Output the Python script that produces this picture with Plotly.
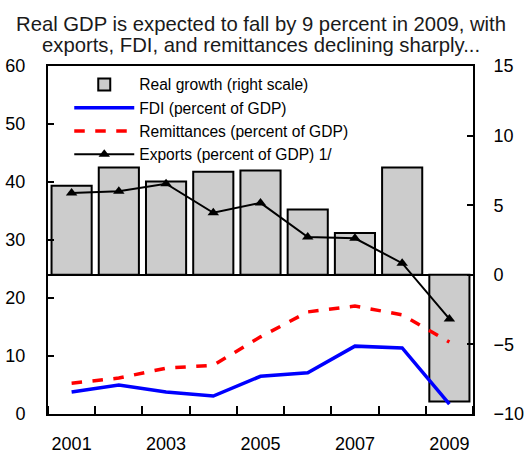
import plotly.graph_objects as go

years = [2001, 2002, 2003, 2004, 2005, 2006, 2007, 2008, 2009]
real_growth = [6.4, 7.7, 6.7, 7.4, 7.5, 4.7, 3.0, 7.7, -9.1]
fdi = [3.8, 5.0, 3.8, 3.1, 6.5, 7.1, 11.7, 11.4, 1.7]
remittances = [5.3, 6.2, 7.9, 8.4, 13.3, 17.6, 18.6, 17.1, 12.4]
exports = [38.1, 38.4, 39.7, 34.7, 36.4, 30.5, 30.3, 26.0, 16.4]
xtick_vals = [2001, 2003, 2005, 2007, 2009]
xtick_text = ["2001", "2003", "2005", "2007", "2009"]
title_line1 = "Real GDP is expected to fall by 9 percent in 2009, with"
title_line2 = "exports, FDI, and remittances declining sharply..."

font = "Liberation Sans, Arial, sans-serif"

fig = go.Figure()
# bars on the primary (right-hand) axis so that the lines on the overlaying axis are drawn above them
fig.add_trace(go.Bar(x=years, y=real_growth, name="Real growth (right scale)", yaxis="y",
                     width=0.85, marker=dict(color="#cccccc", line=dict(color="black", width=2))))
fig.add_trace(go.Scatter(x=years, y=fdi, name="FDI (percent of GDP)", mode="lines", yaxis="y2",
                         line=dict(color="#0000ff", width=3.5)))
fig.add_trace(go.Scatter(x=years, y=remittances, name="Remittances (percent of GDP)", mode="lines",
                         yaxis="y2", line=dict(color="#ff0000", width=3.5, dash="dash")))
fig.add_trace(go.Scatter(x=years, y=exports, name="Exports (percent of GDP) 1/", mode="lines+markers",
                         yaxis="y2", line=dict(color="black", width=2),
                         marker=dict(symbol="triangle-up", size=10, color="black")))

title_font = dict(family=font, size=20.3, color="#1a1a1a")
fig.update_layout(
    width=526, height=457,
    margin=dict(l=48, r=53, t=66, b=43),
    paper_bgcolor="white", plot_bgcolor="white",
    font=dict(family=font, size=18, color="black"),
    annotations=[
        dict(text=title_line1, xref="paper", yref="paper", x=0.5, y=1, xanchor="center",
             yanchor="middle", yshift=42, showarrow=False, font=title_font),
        dict(text=title_line2, xref="paper", yref="paper", x=0.5, y=1, xanchor="center",
             yanchor="middle", yshift=21, showarrow=False, font=title_font),
    ],
    showlegend=True,
    legend=dict(x=0.05, y=0.995, xanchor="left", yanchor="top", bgcolor="rgba(0,0,0,0)",
                font=dict(family=font, size=15.6, color="black"), traceorder="normal",
                itemwidth=60, tracegroupgap=0),
    xaxis=dict(range=[2000.5, 2009.5], tickmode="array", tickvals=xtick_vals, ticktext=xtick_text,
               ticks="", showgrid=False, zeroline=False, showline=True, linecolor="black", linewidth=2,
               mirror=True, ticklabelstandoff=12, tickfont=dict(size=18), automargin=False,
               minor=dict(tick0=2000.5, dtick=1, ticks="inside", ticklen=8, tickwidth=2, tickcolor="black")),
    yaxis=dict(range=[-10, 15], dtick=5, side="right", ticks="inside", ticklen=6,
               tickwidth=2, tickcolor="black", showgrid=False, zeroline=True, zerolinecolor="black",
               zerolinewidth=2, showline=True, linecolor="black", linewidth=2, automargin=False,
               ticklabelstandoff=15, tickfont=dict(size=18)),
    yaxis2=dict(range=[0, 60], dtick=10, overlaying="y", side="left", ticks="inside", ticklen=6,
                tickwidth=2, tickcolor="black", showgrid=False, zeroline=False, showline=True,
                linecolor="black", linewidth=2, ticklabelstandoff=17, tickfont=dict(size=18),
                automargin=False),
)

fig.write_html("out.html", config={"displayModeBar": False},
               post_script="document.body.style.margin='0';")
